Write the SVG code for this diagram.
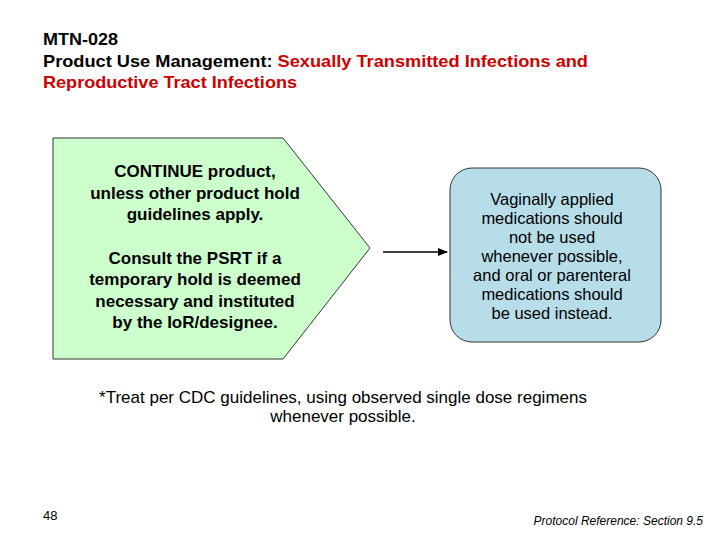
<svg xmlns="http://www.w3.org/2000/svg" width="720" height="540" viewBox="0 0 720 540">
<defs>
<style>
text{font-family:"Liberation Sans",Arial,sans-serif;}
.t{font-size:17px;font-weight:bold;fill:#000;}
.r{fill:#cc0000;}
.n{font-size:17px;font-weight:bold;text-anchor:middle;fill:#000;}
.m{font-size:16.5px;text-anchor:middle;fill:#000;}
</style>
<marker id="ah" markerWidth="10" markerHeight="8" refX="9" refY="4" orient="auto" markerUnits="userSpaceOnUse">
<path d="M0,0 L10,4 L0,8 Z" fill="#000"/>
</marker>
</defs>
<rect width="720" height="540" fill="#fff"/>
<text class="t" x="43" y="45" textLength="75" lengthAdjust="spacingAndGlyphs">MTN-028</text>
<text class="t" x="43" y="67" textLength="545" lengthAdjust="spacingAndGlyphs">Product Use Management:  <tspan class="r">Sexually Transmitted Infections and</tspan></text>
<text class="t r" x="43" y="88" textLength="254" lengthAdjust="spacingAndGlyphs">Reproductive Tract Infections</text>
<g id="pentagon">
<path d="M53,138 L283,138 L370,248 L283,359 L53,359 Z" fill="#ccffcc" stroke="#333" stroke-width="1"/>
<text class="n" x="195" y="177">CONTINUE product,</text>
<text class="n" x="195" y="199">unless other product hold</text>
<text class="n" x="195" y="220">guidelines apply.</text>
<text class="n" x="195" y="264">Consult the PSRT if a</text>
<text class="n" x="195" y="285">temporary hold is deemed</text>
<text class="n" x="195" y="307">necessary and instituted</text>
<text class="n" x="195" y="328">by the IoR/designee.</text>
</g>
<g id="connectors">
<line x1="383" y1="252" x2="447" y2="252" stroke="#000" stroke-width="1.5" marker-end="url(#ah)"/>
</g>
<g id="box">
<rect x="450" y="168" width="211" height="174" rx="22" fill="#b7dde8" stroke="#333" stroke-width="1"/>
<text class="m" x="552" y="205">Vaginally applied</text>
<text class="m" x="552" y="224">medications should</text>
<text class="m" x="552" y="243">not be used</text>
<text class="m" x="552" y="262">whenever possible,</text>
<text class="m" x="552" y="281">and oral or parenteral</text>
<text class="m" x="552" y="300">medications should</text>
<text class="m" x="552" y="319">be used instead.</text>
</g>
<text class="m" x="343" y="403" style="font-size:17px">*Treat per CDC guidelines, using observed single dose regimens</text>
<text class="m" x="343" y="422" style="font-size:17px">whenever possible.</text>
<text x="43" y="520" style="font-size:13px">48</text>
<text x="703" y="525" style="font-size:12px;font-style:italic;text-anchor:end">Protocol Reference:  Section 9.5</text>
</svg>
